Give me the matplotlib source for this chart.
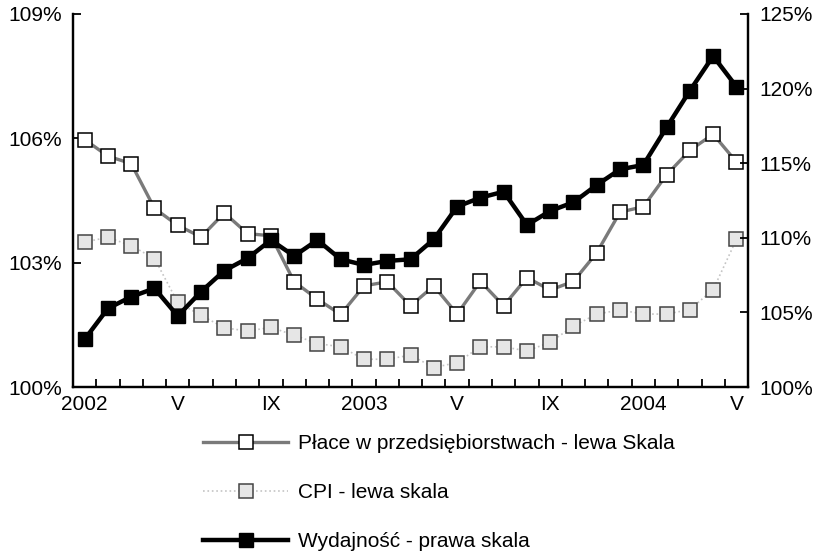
import numpy as np
import matplotlib.pyplot as plt
from matplotlib.ticker import FixedLocator, FuncFormatter

plt.rcParams['font.family'] = ['Liberation Sans', 'DejaVu Sans']

# Monthly data, Jan 2002 - May 2004
months = ['2002', '', '', '', 'V', '', '', '', 'IX', '', '', '', '2003',
          '', '', '', 'V', '', '', '', 'IX', '', '', '', '2004',
          '', '', '', 'V']
place = [105.97, 105.57, 105.39, 104.31, 103.90, 103.62, 104.20, 103.70,
         103.65, 102.54, 102.12, 101.75, 102.44, 102.54, 101.96, 102.44,
         101.76, 102.55, 101.96, 102.64, 102.34, 102.55, 103.24, 104.22,
         104.35, 105.12, 105.71, 106.10, 105.43]
cpi = [103.50, 103.61, 103.41, 103.10, 102.04, 101.73, 101.43, 101.35,
       101.44, 101.25, 101.05, 100.97, 100.67, 100.67, 100.77, 100.47,
       100.59, 100.97, 100.97, 100.87, 101.08, 101.47, 101.76, 101.86,
       101.76, 101.76, 101.87, 102.35, 103.56]
wydajnosc = [103.20, 105.27, 106.05, 106.61, 104.76, 106.39, 107.80, 108.63,
             109.85, 108.78, 109.85, 108.56, 108.18, 108.45, 108.56, 109.90,
             112.09, 112.69, 113.09, 110.86, 111.80, 112.38, 113.54, 114.59,
             114.88, 117.40, 119.86, 122.18, 120.13]

labels = ['Płace w przedsiębiorstwach - lewa Skala',
          'CPI - lewa skala',
          'Wydajność - prawa skala']

x = np.arange(len(months))

fig = plt.figure(figsize=(8.14, 5.51), dpi=100)
ax = fig.add_axes([0.0897, 0.2976, 0.8293, 0.677])
ax2 = ax.twinx()

l1, = ax.plot(x, place, color='#7a7a7a', lw=2.4, marker='s', ms=10,
              mfc='white', mec='black', mew=1.1, label=labels[0])
l2, = ax.plot(x, cpi, color='#c4c4c4', lw=1.2, ls=':', marker='s', ms=10,
              mfc='#e6e6e6', mec='#444444', mew=1.1, label=labels[1])
l3, = ax2.plot(x, wydajnosc, color='black', lw=3.2, marker='s', ms=10,
               mfc='black', mec='black', label=labels[2])

ax.set_xlim(-0.5, len(months) - 0.5)
ax.set_ylim(100, 109)
ax2.set_ylim(100, 125)

pct = FuncFormatter(lambda v, p: '%d%%' % round(v))
ax.yaxis.set_major_locator(FixedLocator([100, 103, 106, 109]))
ax.yaxis.set_major_formatter(pct)
ax2.yaxis.set_major_locator(FixedLocator([100, 105, 110, 115, 120, 125]))
ax2.yaxis.set_major_formatter(pct)

# category labels at centres, tick marks between categories
ax.xaxis.set_major_locator(FixedLocator(x))
ax.set_xticklabels(months)
ax.xaxis.set_minor_locator(FixedLocator(x[:-1] + 0.5))
ax.tick_params(axis='x', which='major', length=0, pad=6, labelsize=15)
ax.tick_params(axis='x', which='minor', direction='in', length=6, width=1.3)
ax.tick_params(axis='y', direction='in', length=6, width=1.3, pad=8,
               labelsize=15)
ax2.tick_params(axis='y', direction='in', length=6, width=1.3, pad=8,
                labelsize=15)

for a in (ax, ax2):
    a.spines['top'].set_visible(False)
    for s in ('left', 'right', 'bottom'):
        a.spines[s].set_linewidth(1.6)

fig.legend(handles=[l1, l2, l3], loc='upper left',
           bbox_to_anchor=(203 / 814, 1 - 434 / 551), frameon=False,
           fontsize=15, handlelength=4.1, handletextpad=0.48,
           labelspacing=1.44, borderpad=0, borderaxespad=0, numpoints=1)

fig.savefig('out.png', dpi=100)
